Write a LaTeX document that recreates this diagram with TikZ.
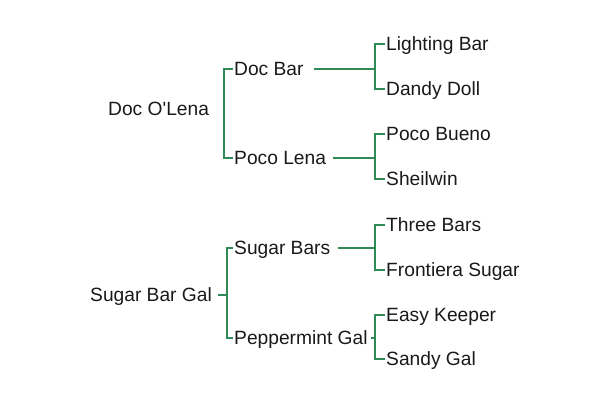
\documentclass[tikz,border=0pt]{standalone}
\usepackage{fontspec}
\setmainfont{Liberation Sans}
\definecolor{tree}{RGB}{46,139,87}
\definecolor{ink}{RGB}{25,25,25}
\begin{document}
\begin{tikzpicture}[x=1pt,y=-1pt,
  lbl/.style={anchor=west,inner xsep=1.5pt,inner ysep=0pt,text=ink,
    font=\fontsize{19.2}{23}\selectfont,text height=13.7pt,text depth=0pt},
  conn/.style={draw=tree,line width=1.4pt,line cap=butt}]
\useasboundingbox (0,0) rectangle (600,400);
% top family
\node[lbl] (dol) at (106.5,109) {Doc O\textquotesingle Lena};
\node[lbl] (db) at (232.5,69) {Doc Bar};
\node[lbl] (pl) at (232.5,158) {Poco Lena};
\node[lbl] (lb) at (384.5,44) {Lighting Bar};
\node[lbl] (dd) at (384.5,89) {Dandy Doll};
\node[lbl] (pb) at (384.5,134) {Poco Bueno};
\node[lbl] (sh) at (384.5,179) {Sheilwin};
% bottom family
\node[lbl] (sbg) at (88.5,295) {Sugar Bar Gal};
\node[lbl] (sb) at (232.5,248) {Sugar Bars};
\node[lbl] (pg) at (232.5,338) {Peppermint Gal};
\node[lbl] (tb) at (384.5,225) {Three Bars};
\node[lbl] (fs) at (384.5,270) {Frontiera Sugar};
\node[lbl] (ek) at (384.5,315) {Easy Keeper};
\node[lbl] (sg) at (384.5,359) {Sandy Gal};
% junctions
\coordinate (j1) at (224,114);
\coordinate (j2) at (375,67);
\coordinate (j3) at (375,157);
\coordinate (j4) at (227,295);
\coordinate (j5) at (375,248);
\coordinate (j6) at (375,337);
% brackets
\draw[conn] (db.west) -| (j1) |- (pl.west);
\draw[conn] (lb.west) -| (j2) |- (dd.west);
\draw[conn] (pb.west) -| (j3) |- (sh.west);
\draw[conn] (sb.west) -| (j4) |- (pg.west);
\draw[conn] (tb.west) -| (j5) |- (fs.west);
\draw[conn] (ek.west) -| (j6) |- (sg.west);
% parent stems
\draw[conn] ([xshift=9pt]db.east) -- (db.east -| j2);
\draw[conn] ([xshift=5pt]pl.east) -- (pl.east -| j3);
\draw[conn] ([xshift=4pt]sbg.east) -- (j4);
\draw[conn] ([xshift=6pt]sb.east) -- (sb.east -| j5);
\draw[conn] ([xshift=2pt]pg.east) -- (pg.east -| j6);
\end{tikzpicture}
\end{document}
